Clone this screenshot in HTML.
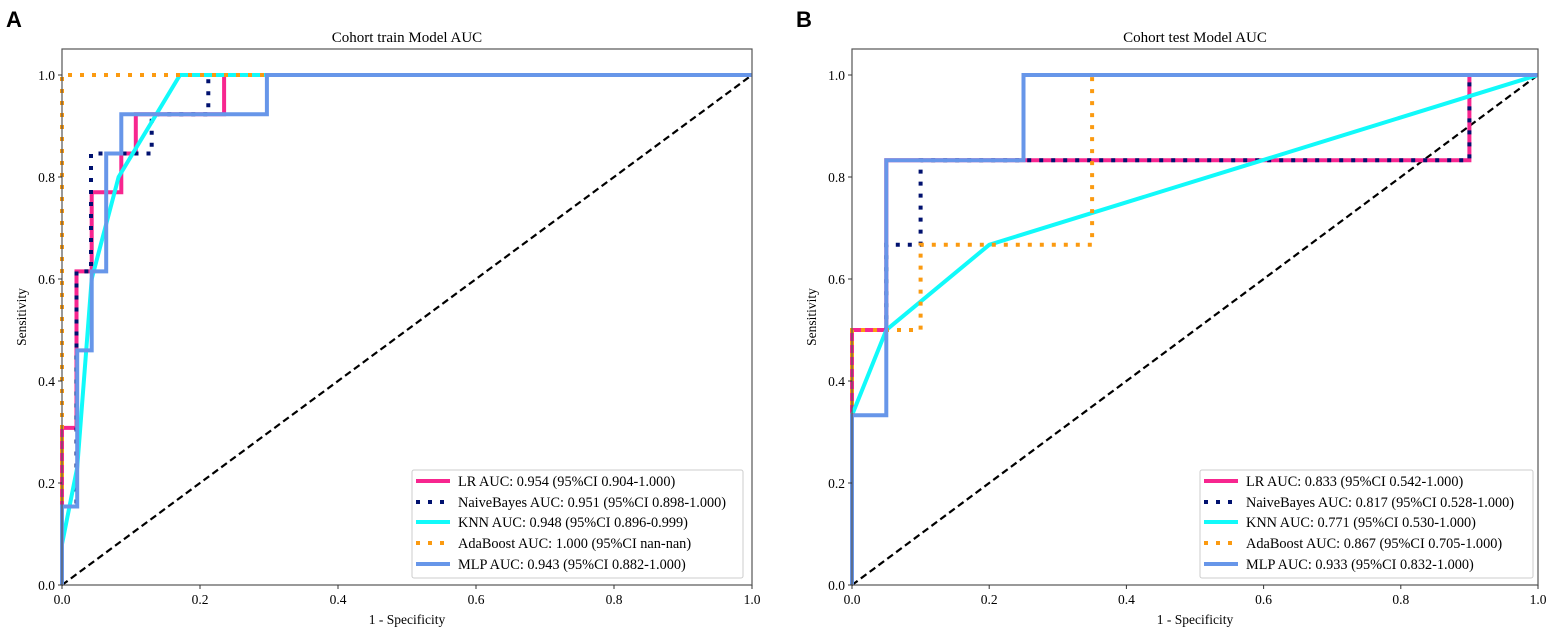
<!DOCTYPE html>
<html><head><meta charset="utf-8"><style>
body{margin:0;background:#fff;}
svg{display:block;font-family:"Liberation Serif",serif;}
</style></head><body>
<svg id="s" width="1556" height="634" xmlns="http://www.w3.org/2000/svg">
<text x="6" y="27" font-family="Liberation Sans,sans-serif" font-weight="bold" font-size="22">A</text>
<text x="796" y="27" font-family="Liberation Sans,sans-serif" font-weight="bold" font-size="22">B</text>
<text x="407" y="42" font-size="15" text-anchor="middle">Cohort train Model AUC</text>
<text x="1195" y="42" font-size="15" text-anchor="middle">Cohort test Model AUC</text>
<text x="407" y="624" font-size="13.5" text-anchor="middle">1 - Specificity</text>
<text x="1195" y="624" font-size="13.5" text-anchor="middle">1 - Specificity</text>
<text transform="translate(26,317) rotate(-90)" font-size="13.5" text-anchor="middle">Sensitivity</text>
<text transform="translate(816,317) rotate(-90)" font-size="13.5" text-anchor="middle">Sensitivity</text>
<g id="ga"></g><g id="gb"></g>
<g font-size="14.3">
<rect x="412" y="470" width="331" height="108" fill="#fff" stroke="#ccc" rx="2"/>
<line x1="416" y1="481" x2="450" y2="481" stroke="#f7268f" stroke-width="4"/>
<line x1="416" y1="502" x2="450" y2="502" stroke="#00116f" stroke-width="4" stroke-dasharray="4 8"/>
<line x1="416" y1="522" x2="450" y2="522" stroke="#11fafa" stroke-width="4"/>
<line x1="416" y1="543" x2="450" y2="543" stroke="#fb9a10" stroke-width="4" stroke-dasharray="4 8"/>
<line x1="416" y1="564" x2="450" y2="564" stroke="#6796e9" stroke-width="4"/>
<text x="458" y="486">LR AUC: 0.954 (95%CI 0.904-1.000)</text>
<text x="458" y="507">NaiveBayes AUC: 0.951 (95%CI 0.898-1.000)</text>
<text x="458" y="527">KNN AUC: 0.948 (95%CI 0.896-0.999)</text>
<text x="458" y="548">AdaBoost AUC: 1.000 (95%CI nan-nan)</text>
<text x="458" y="569">MLP AUC: 0.943 (95%CI 0.882-1.000)</text>
<rect x="1200" y="470" width="333" height="108" fill="#fff" stroke="#ccc" rx="2"/>
<line x1="1204" y1="481" x2="1238" y2="481" stroke="#f7268f" stroke-width="4"/>
<line x1="1204" y1="502" x2="1238" y2="502" stroke="#00116f" stroke-width="4" stroke-dasharray="4 8"/>
<line x1="1204" y1="522" x2="1238" y2="522" stroke="#11fafa" stroke-width="4"/>
<line x1="1204" y1="543" x2="1238" y2="543" stroke="#fb9a10" stroke-width="4" stroke-dasharray="4 8"/>
<line x1="1204" y1="564" x2="1238" y2="564" stroke="#6796e9" stroke-width="4"/>
<text x="1246" y="486">LR AUC: 0.833 (95%CI 0.542-1.000)</text>
<text x="1246" y="507">NaiveBayes AUC: 0.817 (95%CI 0.528-1.000)</text>
<text x="1246" y="527">KNN AUC: 0.771 (95%CI 0.530-1.000)</text>
<text x="1246" y="548">AdaBoost AUC: 0.867 (95%CI 0.705-1.000)</text>
<text x="1246" y="569">MLP AUC: 0.933 (95%CI 0.832-1.000)</text>
</g>
</svg>
<script>
var NS="http://www.w3.org/2000/svg";
function el(g,t,a,txt){var e=document.createElementNS(NS,t);for(var k in a)e.setAttribute(k,a[k]);if(txt)e.textContent=txt;g.appendChild(e);return e;}
function panel(id,x0,x1,series){
 var g=document.getElementById(id),y0=585,sy=510,sx=x1-x0;
 var X=function(v){return x0+v*sx},Y=function(v){return y0-v*sy};
 el(g,"line",{x1:X(0),y1:Y(0),x2:X(1),y2:Y(1),stroke:"#000","stroke-width":2.2,"stroke-dasharray":"7 4"});
 series.forEach(function(s){
  el(g,"polyline",{points:s.p.map(function(q){return X(q[0]).toFixed(1)+","+Y(q[1]).toFixed(1)}).join(" "),fill:"none",stroke:s.c,"stroke-width":4,"stroke-dasharray":s.d?"4 8":"none","stroke-linejoin":"miter"});
 });
 el(g,"rect",{x:x0,y:49,width:sx,height:536,fill:"none",stroke:"#555","stroke-width":1.2});
 for(var i=0;i<=5;i++){var v=i/5,t=v.toFixed(1);
  el(g,"line",{x1:X(v),y1:y0,x2:X(v),y2:y0+4,stroke:"#333"});
  el(g,"text",{x:X(v),y:y0+19,"font-size":13.5,"text-anchor":"middle"},t);
  el(g,"line",{x1:x0-4,y1:Y(v),x2:x0,y2:Y(v),stroke:"#333"});
  el(g,"text",{x:x0-7,y:Y(v)+5,"font-size":13.5,"text-anchor":"end"},t);
 }
}
var P="#f7268f",N="#00116f",C="#11fafa",O="#fb9a10",B="#6796e9";
panel("ga",62,752,[
 {c:P,p:[[0,0],[0,0.308],[0.021,0.308],[0.021,0.615],[0.043,0.615],[0.043,0.77],[0.086,0.77],[0.086,0.846],[0.107,0.846],[0.107,0.923],[0.235,0.923],[0.235,1],[1,1]]},
 {c:N,d:1,p:[[0,0],[0,0.154],[0.021,0.154],[0.021,0.615],[0.042,0.615],[0.042,0.846],[0.13,0.846],[0.13,0.923],[0.212,0.923],[0.212,1],[1,1]]},
 {c:C,p:[[0,0],[0,0.08],[0.022,0.23],[0.043,0.6],[0.082,0.8],[0.171,1],[1,1]]},
 {c:O,d:1,p:[[0,0],[0,1],[1,1]]},
 {c:B,p:[[0,0],[0,0.154],[0.022,0.154],[0.022,0.46],[0.043,0.46],[0.043,0.615],[0.064,0.615],[0.064,0.846],[0.086,0.846],[0.086,0.923],[0.297,0.923],[0.297,1],[1,1]]}
]);
panel("gb",852,1538,[
 {c:P,p:[[0,0],[0,0.5],[0.05,0.5],[0.05,0.833],[0.9,0.833],[0.9,1],[1,1]]},
 {c:N,d:1,p:[[0,0],[0,0.5],[0.05,0.5],[0.05,0.667],[0.1,0.667],[0.1,0.833],[0.9,0.833],[0.9,1],[1,1]]},
 {c:C,p:[[0,0],[0,0.333],[0.05,0.5],[0.2,0.667],[1,1]]},
 {c:O,d:1,p:[[0,0],[0,0.5],[0.1,0.5],[0.1,0.667],[0.35,0.667],[0.35,1],[1,1]]},
 {c:B,p:[[0,0],[0,0.333],[0.05,0.333],[0.05,0.833],[0.25,0.833],[0.25,1],[1,1]]}
]);
</script>
</body></html>
